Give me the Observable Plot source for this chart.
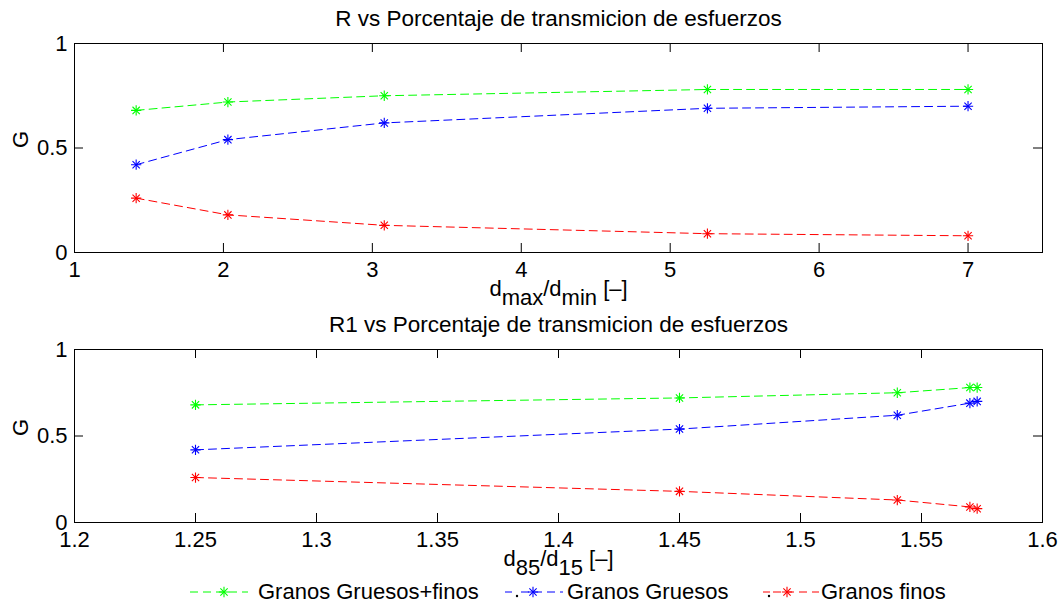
<!DOCTYPE html>
<html><head><meta charset="utf-8">
<script src="https://cdn.jsdelivr.net/npm/d3@7"></script>
<script src="https://cdn.jsdelivr.net/npm/@observablehq/plot@0.6"></script>
<style>
body{margin:0;background:#fff;font-family:"Liberation Sans",Arial,Helvetica,sans-serif;}
#chart{width:1061px;height:606px;position:relative;overflow:hidden;background:#fff}
svg{display:block}
.legend{position:relative;width:1061px;height:36px;font-size:22px;color:#000}
.item{position:absolute;top:0;height:36px;line-height:36px;white-space:nowrap}
.item svg{position:absolute;top:0}
</style></head><body><div id="chart"></div>
<script>
// ---- data ----
const seriesNames = ["Granos Gruesos+finos", "Granos Gruesos", "Granos finos"];
const seriesColors = ["#00ff00", "#0000ff", "#ff0000"];
const rValues  = [1.414, 2.03, 3.08, 5.25, 7];
const r1Values = [1.25, 1.45, 1.54, 1.57, 1.573];
const gTotal   = [0.68, 0.72, 0.75, 0.78, 0.78];
const gGruesos = [0.42, 0.54, 0.62, 0.69, 0.70];
const gFinos   = [0.26, 0.18, 0.13, 0.09, 0.08];
const xTicksTop = [1, 2, 3, 4, 5, 6, 7];
const xTicksBottom = [1.2, 1.25, 1.3, 1.35, 1.4, 1.45, 1.5, 1.55, 1.6];
const yTicks = [0, 0.5, 1];
const titleTop = "R vs Porcentaje de transmicion de esfuerzos";
const titleBottom = "R1 vs Porcentaje de transmicion de esfuerzos";
const yLabel = "G";
const xLabelTop = [["d", false], ["max", true], ["/d", false], ["min", true], [" [–]", false]];
const xLabelBottom = [["d", false], ["85", true], ["/d", false], ["15", true], [" [–]", false]];

const gSeries = [gTotal, gGruesos, gFinos];
const FONT = '"Liberation Sans", Arial, Helvetica, sans-serif';
const fmt = d => String(+d.toFixed(3));

function makePlot({xs, xDomain, xTicks, title, labelParts, height, mb}) {
  const ml = 74, mr = 19, mt = 43, width = 1061;
  const W = width - ml - mr, H = height - mt - mb;
  const rows = [];
  seriesNames.forEach((s, i) => xs.forEach((x, j) => rows.push({x, g: gSeries[i][j], s})));
  const placeholder = labelParts.map(p => p[0]).join("");
  const svg = Plot.plot({
    width, height, marginLeft: ml, marginRight: mr, marginTop: mt, marginBottom: mb,
    style: {fontFamily: FONT, fontSize: "22px", color: "black", background: "white", overflow: "visible"},
    x: {domain: xDomain, label: null},
    y: {domain: [0, 1], label: null},
    color: {domain: seriesNames, range: seriesColors},
    marks: [
      Plot.axisX({ticks: xTicks, tickSize: 0, tickPadding: 9, tickFormat: fmt, fontSize: 22, label: null}),
      Plot.axisY({ticks: yTicks, tickSize: 0, tickPadding: 7, tickFormat: fmt, fontSize: 22, label: null}),
      Plot.tickX(xTicks, {x: d => d, insetTop: H - 9, stroke: "black"}),
      Plot.tickX(xTicks, {x: d => d, insetBottom: H - 9, stroke: "black"}),
      Plot.tickY(yTicks, {y: d => d, insetRight: W - 9, stroke: "black"}),
      Plot.tickY(yTicks, {y: d => d, insetLeft: W - 9, stroke: "black"}),
      Plot.frame({stroke: "black", strokeWidth: 1}),
      Plot.line(rows, {x: "x", y: "g", z: "s", stroke: "s", strokeWidth: 1, strokeDasharray: "8,5"}),
      Plot.dot(rows, {x: "x", y: "g", stroke: "s", symbol: "plus", r: 3.4, strokeWidth: 1.1}),
      Plot.dot(rows, {x: "x", y: "g", stroke: "s", symbol: "times", r: 3.4, strokeWidth: 1.1}),
      Plot.text([title], {frameAnchor: "top", dy: -18, lineAnchor: "bottom", fontSize: 22.5, fill: "black"}),
      Plot.text([yLabel], {frameAnchor: "left", rotate: -90, dx: -54, fontSize: 22, fill: "black"}),
      Plot.text([placeholder], {frameAnchor: "bottom", dy: 43, lineAnchor: "bottom", fontSize: 22, fill: "black"})
    ]
  });
  // turn the label into text with subscripts
  svg.querySelectorAll("text").forEach(t => {
    if (t.textContent === placeholder) {
      t.textContent = "";
      let prevSub = false;
      labelParts.forEach(([str, sub]) => {
        const ts = document.createElementNS("http://www.w3.org/2000/svg", "tspan");
        ts.textContent = str;
        if (sub !== prevSub) ts.setAttribute("dy", sub ? "0.42em" : "-0.42em");
        prevSub = sub;
        t.appendChild(ts);
      });
    }
  });
  return svg;
}

const chart = document.getElementById("chart");
chart.appendChild(makePlot({xs: rValues, xDomain: [1, 7.5], xTicks: xTicksTop, title: titleTop, labelParts: xLabelTop, height: 306, mb: 54}));
chart.appendChild(makePlot({xs: r1Values, xDomain: [1.2, 1.6], xTicks: xTicksBottom, title: titleBottom, labelParts: xLabelBottom, height: 264, mb: 48}));

// ---- legend ----
const legend = d3.select(chart).append("div").attr("class", "legend");
const swLeft = [190, 505, 763];
const txLeft = [258, 567, 821];
const swWidth = [58, 58, 56];
const markAt = [34, 28, 24];
const dotAt = [null, 12, 6];
seriesNames.forEach((name, i) => {
  const sw = legend.append("div").attr("class", "item").style("left", swLeft[i] + "px");
  const s = sw.append("svg").attr("width", swWidth[i]).attr("height", 36);
  s.append("line").attr("x1", dotAt[i] == null ? 0 : dotAt[i] + 4).attr("x2", swWidth[i]).attr("y1", 22).attr("y2", 22)
    .attr("stroke", seriesColors[i]).attr("stroke-width", 1).attr("stroke-dasharray", "8,5");
  if (dotAt[i] != null) {
    s.append("line").attr("x1", 0).attr("x2", 7).attr("y1", 22).attr("y2", 22).attr("stroke", seriesColors[i]);
    s.append("circle").attr("cx", dotAt[i]).attr("cy", 26).attr("r", 1.2).attr("fill", "#000");
  }
  ["plus", "times"].forEach(k => {
    const sym = k === "plus" ? d3.symbolPlus : d3.symbolTimes;
    s.append("path").attr("d", d3.symbol(sym, 3.4 * 3.4 * Math.PI)()).attr("transform", `translate(${markAt[i]},22)`)
      .attr("stroke", seriesColors[i]).attr("fill", "none").attr("stroke-width", 1.1);
  });
  legend.append("div").attr("class", "item").style("left", txLeft[i] + "px").style("top", "4px").text(name);
});
</script></body></html>
